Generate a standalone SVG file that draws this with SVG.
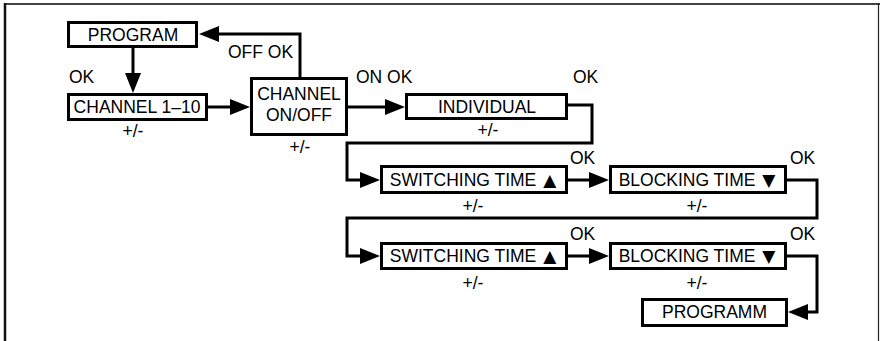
<svg xmlns="http://www.w3.org/2000/svg" width="880" height="341" viewBox="0 0 880 341">
<style>
.box{fill:#fff;stroke:#000;stroke-width:3}
.t{font-family:"Liberation Sans",Arial,sans-serif;font-size:17.5px;fill:#000}
.c{text-anchor:middle}
.tri{font-family:"DejaVu Sans",sans-serif;font-size:17px}
.ln{fill:none;stroke:#000;stroke-width:3;stroke-linejoin:miter}
</style>
<defs>
<marker id="ah" markerUnits="userSpaceOnUse" markerWidth="22" markerHeight="18" refX="15" refY="8" orient="auto" viewBox="0 0 22 18">
<path d="M0,0 L20,8 L0,16 Z" fill="#000"/>
</marker>
</defs>
<rect width="880" height="341" fill="#fff"/>
<g id="frame">
<line x1="4" y1="4" x2="880" y2="4" stroke="#444" stroke-width="2"/>
<line x1="5" y1="3" x2="5" y2="341" stroke="#111" stroke-width="2.5"/>
<line x1="878.5" y1="3" x2="878.5" y2="341" stroke="#222" stroke-width="1.2"/>
</g>
<g id="connectors">
<path class="ln" d="M133,48 V88" marker-end="url(#ah)"/>
<path class="ln" d="M208,107 H245" marker-end="url(#ah)"/>
<path class="ln" d="M300,77 V34 H204" marker-end="url(#ah)"/>
<path class="ln" d="M348,107 H400" marker-end="url(#ah)"/>
<path class="ln" d="M568,105 H592 V143 H347 V180 H375" marker-end="url(#ah)"/>
<path class="ln" d="M568,180 H604" marker-end="url(#ah)"/>
<path class="ln" d="M787,180 H817 V218 H347 V256 H375" marker-end="url(#ah)"/>
<path class="ln" d="M568,256 H604" marker-end="url(#ah)"/>
<path class="ln" d="M787,256 H817 V312 H793" marker-end="url(#ah)"/>
</g>
<g id="labels">
<text class="t" x="69" y="83">OK</text>
<text class="t" x="228" y="58">OFF OK</text>
<text class="t" x="356" y="83">ON OK</text>
<text class="t" x="573" y="83">OK</text>
<text class="t c" x="133" y="137">+/-</text>
<text class="t c" x="300" y="153">+/-</text>
<text class="t c" x="488" y="136">+/-</text>
<text class="t" x="570" y="164">OK</text>
<text class="t" x="790" y="164">OK</text>
<text class="t c" x="473" y="212">+/-</text>
<text class="t c" x="697" y="212">+/-</text>
<text class="t" x="570" y="240">OK</text>
<text class="t" x="790" y="240">OK</text>
<text class="t c" x="473" y="289">+/-</text>
<text class="t c" x="697" y="289">+/-</text>
</g>
<g id="program">
<rect class="box" x="68.5" y="22.5" width="128" height="24"/>
<text class="t c" x="133" y="41">PROGRAM</text>
</g>
<g id="channel110">
<rect class="box" x="68.5" y="94.5" width="138" height="25"/>
<text class="t c" x="137" y="113">CHANNEL 1–10</text>
</g>
<g id="channelonoff">
<rect class="box" x="251.5" y="78.5" width="95" height="56"/>
<text class="t c" x="299" y="100">CHANNEL</text>
<text class="t c" x="299" y="121">ON/OFF</text>
</g>
<g id="individual">
<rect class="box" x="406.5" y="94.5" width="160" height="24"/>
<text class="t c" x="487" y="113">INDIVIDUAL</text>
</g>
<g id="switching1">
<rect class="box" x="381.5" y="166.5" width="185" height="26"/>
<text class="t c" x="473" y="186">SWITCHING TIME <tspan class="tri" dx="2">▲</tspan></text>
</g>
<g id="blocking1">
<rect class="box" x="610.5" y="166.5" width="175" height="26"/>
<text class="t c" x="697" y="186">BLOCKING TIME <tspan class="tri" dx="2">▼</tspan></text>
</g>
<g id="switching2">
<rect class="box" x="381.5" y="243.5" width="185" height="25"/>
<text class="t c" x="473" y="262">SWITCHING TIME <tspan class="tri" dx="2">▲</tspan></text>
</g>
<g id="blocking2">
<rect class="box" x="610.5" y="243.5" width="175" height="25"/>
<text class="t c" x="697" y="262">BLOCKING TIME <tspan class="tri" dx="2">▼</tspan></text>
</g>
<g id="programm">
<rect class="box" x="642.5" y="299.5" width="144" height="26"/>
<text class="t c" x="714.5" y="318">PROGRAMM</text>
</g>
</svg>
